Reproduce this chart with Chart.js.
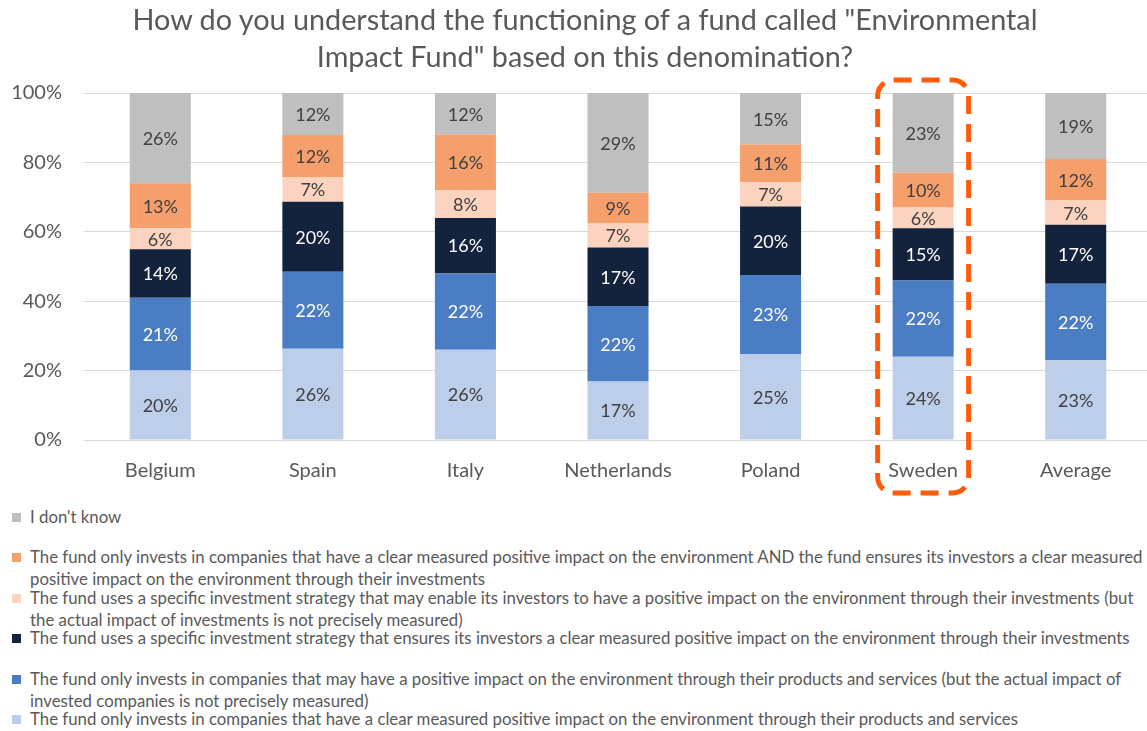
<!DOCTYPE html>
<html>
<head>
<meta charset="utf-8">
<script src="https://cdn.jsdelivr.net/npm/chart.js@4.4.1/dist/chart.umd.min.js"></script>
<style>
  html, body { margin: 0; padding: 0; background: #fff; overflow: hidden; }
  #wrap { position: relative; width: 1152px; height: 500px; }
  #title { position: absolute; left: 0; top: 1px; width: 1170px; text-align: center; font-family: Lato, sans-serif; font-size: 28.8px; line-height: 37.4px; color: #595959; }
  #legend { position: absolute; left: 0; top: 506px; width: 1147px; font-family: Lato, sans-serif; font-size: 16.8px; color: #595959; }
  .item { position: relative; height: 40.4px; line-height: 22px; padding-left: 30px; box-sizing: border-box; }
  .item span.box { position: absolute; left: 12px; top: 7px; width: 9px; height: 9px; }
</style>
</head>
<body>
<div id="wrap"><canvas id="chart" width="1152" height="500"></canvas></div>
<div id="title"></div>
<div id="legend"></div>
<script>
// --- Data ---
const titleLines = ['How do you understand the functioning of a fund called "Environmental', 'Impact Fund" based on this denomination?'];
const countries = ['Belgium', 'Spain', 'Italy', 'Netherlands', 'Poland', 'Sweden', 'Average'];
const yTicks = ['0%', '20%', '40%', '60%', '80%', '100%'];

// stacked bottom to top
const clearImpactProducts = [20, 26, 26, 17, 25, 24, 23];
const mayImpactProducts = [21, 22, 22, 22, 23, 22, 22];
const strategyEnsures = [14, 20, 16, 17, 20, 15, 17];
const strategyMayEnable = [6, 7, 8, 7, 7, 6, 7];
const clearImpactAndEnsures = [13, 12, 16, 9, 11, 10, 12];
const dontKnow = [26, 12, 12, 29, 15, 23, 19];

const seriesLabels = [
  'The fund only invests in companies that have a clear measured positive impact on the environment through their products and services',
  'The fund only invests in companies that may have a positive impact on the environment through their products and services (but the actual impact of invested companies is not precisely measured)',
  'The fund uses a specific investment strategy that ensures its investors a clear measured positive impact on the environment through their investments',
  'The fund uses a specific investment strategy that may enable its investors to have a positive impact on the environment through their investments (but the actual impact of investments is not precisely measured)',
  'The fund only invests in companies that have a clear measured positive impact on the environment AND the fund ensures its investors a clear measured positive impact on the environment through their investments',
  "I don't know"
];
const seriesValues = [clearImpactProducts, mayImpactProducts, strategyEnsures, strategyMayEnable, clearImpactAndEnsures, dontKnow];
const seriesColors = ['#BCCEEA', '#4A7DC3', '#14233D', '#FBD3BE', '#F5A06C', '#BFBFBF'];
const labelColors = ['#404040', '#ffffff', '#ffffff', '#404040', '#404040', '#404040'];

const highlightIndex = 5; // Sweden

// --- 100% stacked: share of each column total ---
const totals = countries.map((c, i) => seriesValues.reduce((s, arr) => s + arr[i], 0));

const datasets = seriesValues.map((vals, k) => ({
  label: seriesLabels[k],
  data: vals.map((v, i) => v / totals[i] * 100),
  raw: vals,
  backgroundColor: seriesColors[k],
  labelColor: labelColors[k],
  barPercentage: 0.8,
  categoryPercentage: 0.5
}));

const font = 'Lato, sans-serif';

// data labels inside the segments
const segmentLabels = {
  id: 'segmentLabels',
  afterDatasetsDraw(chart) {
    const ctx = chart.ctx;
    ctx.save();
    ctx.font = '18px ' + font;
    ctx.textAlign = 'center';
    ctx.textBaseline = 'middle';
    chart.data.datasets.forEach((ds, k) => {
      chart.getDatasetMeta(k).data.forEach((bar, i) => {
        ctx.fillStyle = ds.labelColor;
        ctx.fillText(ds.raw[i] + '%', bar.x, (bar.y + bar.base) / 2 + 1);
      });
    });
    ctx.restore();
  }
};

// dashed box around the highlighted column
const highlightBox = {
  id: 'highlightBox',
  afterDraw(chart) {
    const ctx = chart.ctx;
    const x = chart.scales.x.getPixelForValue(highlightIndex);
    const top = chart.chartArea.top - 13;
    const bottom = chart.chartArea.bottom + 53;
    ctx.save();
    ctx.strokeStyle = '#FF5B0A';
    ctx.lineWidth = 5;
    ctx.setLineDash([18, 10]);
    ctx.beginPath();
    ctx.roundRect(x - 45.5, top, 91, bottom - top, 16);
    ctx.stroke();
    ctx.restore();
  }
};

new Chart(document.getElementById('chart'), {
  type: 'bar',
  data: { labels: countries, datasets },
  plugins: [segmentLabels, highlightBox],
  options: {
    responsive: false,
    animation: false,
    maintainAspectRatio: false,
    layout: { padding: { left: 0, right: 0, top: 93, bottom: 0 } },
    plugins: {
      legend: { display: false },
      tooltip: { enabled: false },
      title: { display: false }
    },
    scales: {
      x: {
        stacked: true,
        grid: { display: false },
        border: { color: '#D9D9D9', width: 1 },
        ticks: { color: '#595959', font: { family: font, size: 20 }, padding: 11, maxRotation: 0 },
        afterFit(scale) { scale.height = 60; }
      },
      y: {
        stacked: true,
        min: 0,
        max: 100,
        border: { display: false },
        grid: { color: '#D9D9D9', drawTicks: false },
        ticks: {
          stepSize: 20,
          color: '#595959',
          font: { family: font, size: 20 },
          padding: 22,
          callback: (v) => yTicks[v / 20]
        },
        afterFit(scale) { scale.width = 84; }
      }
    }
  }
});

// --- title ---
document.getElementById('title').innerHTML = titleLines.join('<br>');

// --- HTML legend, top of stack first ---
const legend = document.getElementById('legend');
for (let k = seriesLabels.length - 1; k >= 0; k--) {
  const div = document.createElement('div');
  div.className = 'item';
  div.innerHTML = '<span class="box" style="background:' + seriesColors[k] + '"></span>' + seriesLabels[k];
  legend.appendChild(div);
}
</script>
</body>
</html>
